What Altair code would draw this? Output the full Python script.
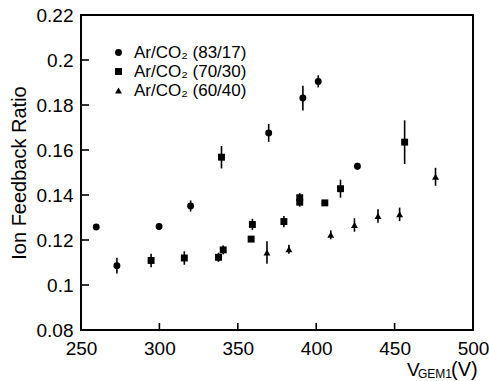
import altair as alt
import pandas as pd

FONT = "Liberation Sans"

gases = ["Ar/CO₂ (83/17)", "Ar/CO₂ (70/30)", "Ar/CO₂ (60/40)"]

v_8317 = [259.7, 272.9, 299.8, 319.9, 369.7, 391.5, 401.3, 426.3]
r_8317 = [0.1258, 0.1086, 0.1260, 0.1351, 0.1676, 0.1831, 0.1905, 0.1528]
e_8317 = [0.0012, 0.0035, 0.0012, 0.0025, 0.0040, 0.0055, 0.0027, 0.0015]

v_7030 = [294.7, 315.9, 337.7, 340.7, 339.6, 358.5, 359.3, 379.4, 389.5, 389.5, 405.5, 415.5, 456.4]
r_7030 = [0.1109, 0.1120, 0.1123, 0.1156, 0.1568, 0.1204, 0.1269, 0.1282, 0.1388, 0.1368, 0.1365, 0.1428, 0.1635]
e_7030 = [0.0030, 0.0030, 0.0020, 0.0020, 0.0050, 0.0012, 0.0025, 0.0025, 0.0020, 0.0020, 0.0008, 0.0040, 0.0097]

v_6040 = [368.6, 382.6, 409.3, 424.4, 439.4, 453.2, 476.1]
r_6040 = [0.1145, 0.1159, 0.1223, 0.1267, 0.1307, 0.1314, 0.1481]
e_6040 = [0.0050, 0.0020, 0.0020, 0.0030, 0.0030, 0.0030, 0.0040]

x_ticks = [250, 300, 350, 400, 450, 500]
y_ticks = [0.08, 0.10, 0.12, 0.14, 0.16, 0.18, 0.20, 0.22]

rows = []
for g, vs, rs, es in [(gases[0], v_8317, r_8317, e_8317),
                      (gases[1], v_7030, r_7030, e_7030),
                      (gases[2], v_6040, r_6040, e_6040)]:
    for v, r, e in zip(vs, rs, es):
        rows.append({"gas": g, "V": v, "ratio": r, "err": e})
df = pd.DataFrame(rows)

W, H = 392, 315

xscale = alt.Scale(domain=[250, 500], nice=False, zero=False)
yscale = alt.Scale(domain=[0.08, 0.22], nice=False, zero=False)

xaxis = alt.Axis(values=x_ticks, title=None, labelFontSize=19, labelPadding=9,
                 labelFont=FONT, labelColor="black", labelFlush=False,
                 domain=False, ticks=False, grid=False)
yaxis = alt.Axis(values=y_ticks, format=".2~f", title="Ion Feedback Ratio",
                 labelFontSize=19, labelPadding=8, labelFont=FONT, labelFlush=False,
                 labelColor="black", titleFont=FONT, titleFontSize=20,
                 titleFontWeight="normal", titleColor="black",
                 titleBaseline="alphabetic", titleX=-56, titleY=H / 2,
                 domain=False, ticks=False, grid=False)

base = alt.Chart(df)

errs = base.transform_calculate(
    lo="datum.ratio - datum.err", hi="datum.ratio + datum.err"
).mark_rule(color="black", strokeWidth=1.6).encode(
    x=alt.X("V:Q", scale=xscale, axis=xaxis),
    y=alt.Y("lo:Q", scale=yscale, axis=yaxis),
    y2="hi:Q",
)

leg = alt.Legend(title=None, orient="none", legendX=29, legendY=29,
                 padding=0, rowPadding=1, labelFontSize=17,
                 labelFont=FONT, labelColor="black",
                 symbolFillColor="black", symbolStrokeColor="black",
                 labelOffset=7)

points = base.mark_point(filled=True, color="black", opacity=1).encode(
    x=alt.X("V:Q", scale=xscale, axis=xaxis),
    y=alt.Y("ratio:Q", scale=yscale, axis=yaxis),
    shape=alt.Shape("gas:N",
                    scale=alt.Scale(domain=gases, range=["circle", "square", "triangle-up"]),
                    legend=leg),
    size=alt.Size("gas:N",
                  scale=alt.Scale(domain=gases, range=[48, 48, 75]),
                  legend=leg),
)

ytick_df = pd.DataFrame({"t": y_ticks})
xtick_df = pd.DataFrame({"t": x_ticks})

yt = alt.Chart(ytick_df).mark_rule(color="black", strokeWidth=1.6).encode(
    y=alt.Y("t:Q", scale=yscale, axis=yaxis),
    x=alt.value(0), x2=alt.value(8),
)
xt = alt.Chart(xtick_df).mark_rule(color="black", strokeWidth=1.6).encode(
    x=alt.X("t:Q", scale=xscale, axis=xaxis),
    y=alt.value(H), y2=alt.value(H - 7),
)

title_v = alt.Chart(pd.DataFrame({"s": ["V"]})).mark_text(
    font=FONT, fontSize=19, align="left", baseline="alphabetic", color="black"
).encode(text="s:N", x=alt.value(326), y=alt.value(361))
title_sub = alt.Chart(pd.DataFrame({"s": ["GEM1"]})).mark_text(
    font=FONT, fontSize=12, align="left", baseline="alphabetic", color="black"
).encode(text="s:N", x=alt.value(337), y=alt.value(363))
title_unit = alt.Chart(pd.DataFrame({"s": ["(V)"]})).mark_text(
    font=FONT, fontSize=20, align="left", baseline="alphabetic", color="black"
).encode(text="s:N", x=alt.value(370), y=alt.value(361))

chart = alt.layer(errs, points, yt, xt, title_v, title_sub, title_unit).properties(
    width=W, height=H,
    autosize=alt.AutoSizeParams(type="none"),
    padding={"left": 81, "top": 15, "right": 16, "bottom": 51},
).configure_view(stroke="black", strokeWidth=2)

chart.save("out.html", embed_options={"renderer": "svg", "actions": False})
